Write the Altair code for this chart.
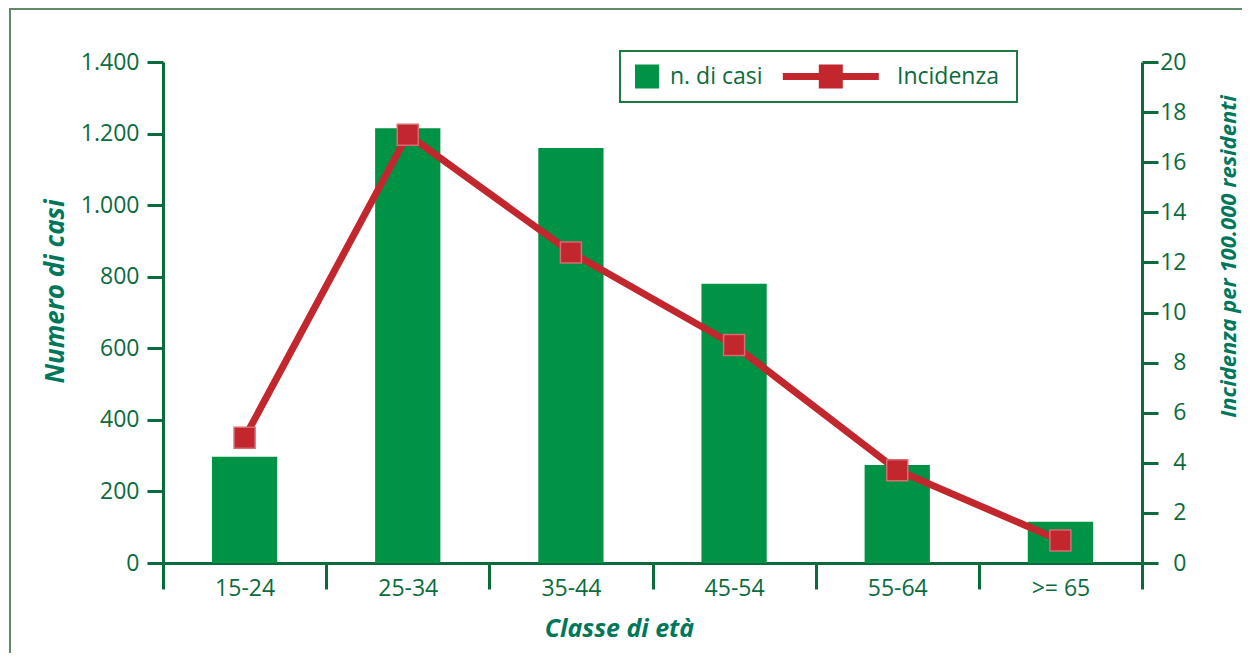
import altair as alt
import pandas as pd

classi = ["15-24", "25-34", "35-44", "45-54", "55-64", ">= 65"]
casi = [297, 1215, 1160, 780, 274, 115]
incidenza = [5.0, 17.1, 12.4, 8.7, 3.7, 0.9]
serie_casi = "n. di casi"
serie_inc = "Incidenza"
ticks_casi = [0, 200, 400, 600, 800, 1000, 1200, 1400]
ticks_inc = [0, 2, 4, 6, 8, 10, 12, 14, 16, 18, 20]

GREEN = "#009245"
RED = "#c1272d"
AXIS = "#0b6b3c"
TITLE = "#00775a"
FONT = "Open Sans"
LSIZE = 23

df = pd.DataFrame({"classe": classi, "casi": casi, "incidenza": incidenza,
                   "serie": [serie_casi] * len(classi),
                   "serie_inc": [serie_inc] * len(classi)})

W, H = 979, 501

xenc = alt.X("classe:N", sort=classi,
             scale=alt.Scale(paddingInner=0, paddingOuter=0),
             axis=alt.Axis(title="Classe di età", labelAngle=0, tickBand="extent",
                           tickSize=26, tickWidth=3, domainWidth=3,
                           domainColor=AXIS, tickColor=AXIS, labelColor=AXIS,
                           labelFont=FONT, labelFontSize=LSIZE, labelPadding=-12,
                           titleFont=FONT, titleFontSize=25, titleFontStyle="italic",
                           titleFontWeight="bold", titleColor=TITLE,
                           titleX=456, titleY=65, titleBaseline="middle",
                           titleAlign="center"))

line_path = "M-7.6,-0.29H0.4V0.29H-7.6Z M-4.6,-1H-2.6V1H-4.6Z"

bars = alt.Chart(df).mark_bar(color=GREEN, width={"band": 0.4}).encode(
    x=xenc,
    y=alt.Y("casi:Q", scale=alt.Scale(domain=[0, 1400], nice=False),
            axis=alt.Axis(title="Numero di casi", orient="left", values=ticks_casi,
                          labelExpr="replace(format(datum.value, ','), ',', '.')",
                          grid=False, tickSize=16, tickWidth=3, domainWidth=3,
                          domainColor=AXIS, tickColor=AXIS, labelColor=AXIS,
                          labelFont=FONT, labelFontSize=LSIZE, labelPadding=8,
                          titleFont=FONT, titleFontSize=26, titleFontStyle="italic",
                          titleFontWeight="bold", titleColor=TITLE,
                          titleAngle=270, titleX=-108, titleY=229,
                          titleBaseline="middle", titleAlign="center")),
    color=alt.Color("serie:N",
                    scale=alt.Scale(domain=[serie_casi], range=[GREEN]),
                    legend=alt.Legend(title=None, orient="none", direction="horizontal",
                                      legendX=472, legendY=2.5, padding=0,
                                      symbolSize=576, symbolType="square",
                                      symbolStrokeWidth=0,
                                      labelFont=FONT, labelFontSize=LSIZE, labelColor=AXIS,
                                      labelOffset=11)),
)

yinc = alt.Y("incidenza:Q", scale=alt.Scale(domain=[0, 20], nice=False),
             axis=alt.Axis(title="Incidenza per 100.000 residenti", orient="right",
                           values=ticks_inc, grid=False, tickSize=16, tickWidth=3,
                           domainWidth=3, domainColor=AXIS, tickColor=AXIS,
                           labelColor=AXIS, labelFont=FONT, labelFontSize=LSIZE,
                           labelAlign="right", labelPadding=28,
                           titleFont=FONT, titleFontSize=22, titleFontStyle="italic",
                           titleFontWeight="bold", titleColor=TITLE,
                           titleAngle=270, titleX=86, titleY=194,
                           titleBaseline="middle", titleAlign="center"))

line = alt.Chart(df).mark_line(color=RED, strokeWidth=7).encode(x=xenc, y=yinc)
points = alt.Chart(df).mark_point(shape="square", filled=True, size=441,
                                  stroke="#d86a72", strokeWidth=1.5,
                                  opacity=1).encode(
    x=xenc, y=yinc,
    fill=alt.Fill("serie_inc:N", scale=alt.Scale(domain=[serie_inc], range=[RED]),
                  legend=alt.Legend(title=None, orient="none", direction="horizontal",
                                    legendX=699, legendY=2.5, padding=0,
                                    symbolSize=576, symbolType=line_path,
                                    symbolStrokeWidth=0, symbolOpacity=1,
                                    labelFont=FONT, labelFontSize=LSIZE, labelColor=AXIS,
                                    labelOffset=11)),
)
inc = alt.layer(line, points)

frame = alt.Chart(alt.Data(values=[{}])).mark_rect(
    fill="transparent", stroke="#5e8a67", strokeWidth=2).encode(
    x=alt.value(-153), x2=alt.value(1200), y=alt.value(-53), y2=alt.value(700))

legend_box = alt.Chart(alt.Data(values=[{}])).mark_rect(
    fill="transparent", stroke="#1f7a3f", strokeWidth=2).encode(
    x=alt.value(457), x2=alt.value(854), y=alt.value(-11), y2=alt.value(40))

chart = alt.layer(frame, legend_box, bars, inc).resolve_scale(y="independent").properties(
    width=W, height=H,
    autosize=alt.AutoSizeParams(type="none"),
    padding={"left": 155, "top": 54, "right": 100, "bottom": 90},
    background="white",
).configure_view(strokeWidth=0)

chart.save("out.html", embed_options={"renderer": "svg", "actions": False})
